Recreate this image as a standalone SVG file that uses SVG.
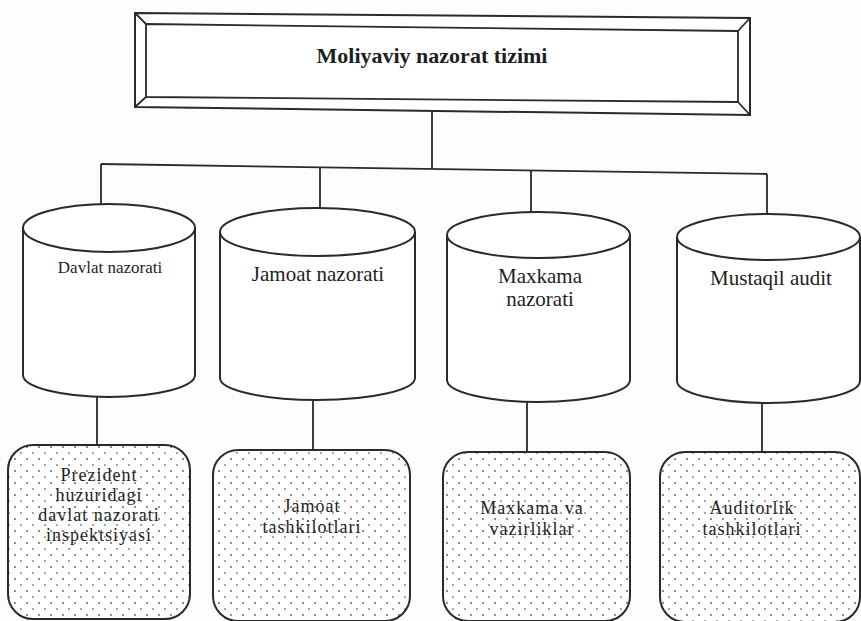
<svg xmlns="http://www.w3.org/2000/svg" width="861" height="621" viewBox="0 0 861 621">
  <style>
    .ln { fill: none; stroke: #2a2a2a; stroke-width: 1.8; stroke-linejoin: round; }
    .cyl { fill: #ffffff; stroke: #2a2a2a; stroke-width: 2; }
    .box { fill: url(#dots); stroke: #2a2a2a; stroke-width: 2; }
    .t { font-family: "Liberation Serif", "Times New Roman", serif; fill: #1e1e1e; text-anchor: middle; }
    .title { font-size: 22px; font-weight: bold; }
    .lbl { font-size: 21px; }
    .leaf { font-size: 18px; letter-spacing: 1px; }
    .small { font-size: 17px; }
  </style>
  <defs>
    <pattern id="dots" width="12" height="12" patternUnits="userSpaceOnUse">
      <rect width="12" height="12" fill="#ffffff"/>
      <circle cx="3" cy="3" r="1" fill="#6a6a6a"/>
      <circle cx="9" cy="9" r="1" fill="#8a8a8a"/>
    </pattern>
  </defs>

  <rect width="861" height="621" fill="#fdfdfd"/>

  <!-- connectors -->
  <g id="connectors" class="ln">
    <line x1="432" y1="111" x2="432" y2="169"/>
    <line x1="101" y1="164" x2="767" y2="174"/>
    <line x1="101" y1="164" x2="101" y2="204"/>
    <line x1="320" y1="167" x2="320" y2="208"/>
    <line x1="531" y1="170" x2="531" y2="212"/>
    <line x1="767" y1="174" x2="767" y2="214"/>
    <line x1="97" y1="397" x2="97" y2="445"/>
    <line x1="313" y1="400" x2="313" y2="450"/>
    <line x1="527" y1="402" x2="527" y2="452"/>
    <line x1="762" y1="403" x2="762" y2="452"/>
  </g>

  <!-- root: bevelled frame -->
  <g id="root">
    <polygon points="135,13 750,18 750,115 135,107" fill="#ffffff" stroke="#2a2a2a" stroke-width="2"/>
    <polygon points="146,24 738,31 738,102 146,97" fill="#ffffff" stroke="#2a2a2a" stroke-width="1.8"/>
    <g class="ln">
      <line x1="135" y1="13" x2="146" y2="24"/>
      <line x1="750" y1="18" x2="738" y2="31"/>
      <line x1="750" y1="115" x2="738" y2="102"/>
      <line x1="135" y1="107" x2="146" y2="97"/>
    </g>
    <text class="t title" x="432" y="63">Moliyaviy nazorat tizimi</text>
  </g>

  <!-- cylinders -->
  <g id="davlat">
    <path class="cyl" d="M23,228 L23,375 A86,22 0 0,0 195,375 L195,228"/>
    <ellipse class="cyl" cx="109" cy="228" rx="86" ry="24"/>
    <text class="t small" x="110" y="273">Davlat nazorati</text>
  </g>
  <g id="jamoat">
    <path class="cyl" d="M220,232 L220,378 A97.5,22 0 0,0 415,378 L415,232"/>
    <ellipse class="cyl" cx="317.5" cy="232" rx="97.5" ry="24"/>
    <text class="t lbl" x="318" y="281">Jamoat nazorati</text>
  </g>
  <g id="maxkama">
    <path class="cyl" d="M447,235 L447,380 A91.5,22 0 0,0 630,380 L630,235"/>
    <ellipse class="cyl" cx="538.5" cy="235" rx="91.5" ry="23"/>
    <text class="t lbl" x="540" y="283">Maxkama</text>
    <text class="t lbl" x="540" y="306">nazorati</text>
  </g>
  <g id="mustaqil">
    <path class="cyl" d="M677,237 L677,381 A91.5,22 0 0,0 860,381 L860,237"/>
    <ellipse class="cyl" cx="768.5" cy="237" rx="91.5" ry="23"/>
    <text class="t lbl" x="771" y="285">Mustaqil audit</text>
  </g>

  <!-- dotted leaf boxes -->
  <g id="inspeksiya">
    <rect class="box" x="8" y="445" width="182" height="174" rx="25" ry="25"/>
    <text class="t leaf" x="99" y="481">Prezident</text>
    <text class="t leaf" x="99" y="501">huzuridagi</text>
    <text class="t leaf" x="99" y="521">davlat nazorati</text>
    <text class="t leaf" x="99" y="541">inspektsiyasi</text>
  </g>
  <g id="tashkilotlar">
    <rect class="box" x="213" y="450" width="197" height="171" rx="25" ry="25"/>
    <text class="t leaf" x="312" y="512">Jamoat</text>
    <text class="t leaf" x="312" y="533">tashkilotlari</text>
  </g>
  <g id="vazirliklar">
    <rect class="box" x="443" y="452" width="187" height="169" rx="25" ry="25"/>
    <text class="t leaf" x="532" y="514">Maxkama va</text>
    <text class="t leaf" x="532" y="535">vazirliklar</text>
  </g>
  <g id="auditorlik">
    <rect class="box" x="660" y="452" width="200" height="170" rx="25" ry="25"/>
    <text class="t leaf" x="752" y="514">Auditorlik</text>
    <text class="t leaf" x="752" y="535">tashkilotlari</text>
  </g>
</svg>
